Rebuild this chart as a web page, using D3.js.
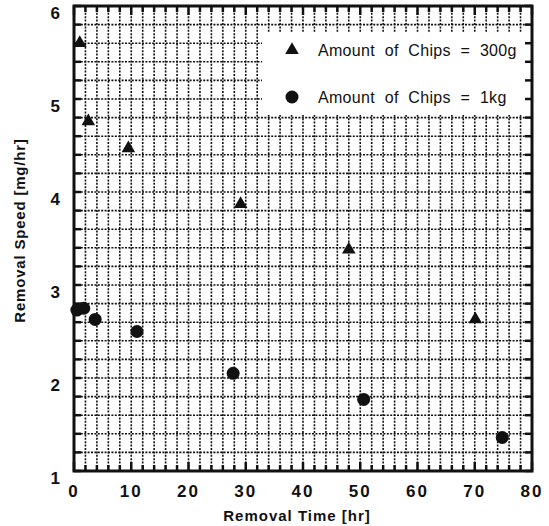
<!DOCTYPE html>
<html>
<head>
<meta charset="utf-8">
<script src="https://cdn.jsdelivr.net/npm/d3@7"></script>
<style>
  body { margin: 0; background: #fff; }
  svg { font-family: "Liberation Sans", Arial, Helvetica, sans-serif; }
  .tick-label { font-weight: bold; font-size: 17px; fill: #111; }
  .title { font-weight: bold; font-size: 15px; fill: #111; }
  .legend text { font-size: 16px; fill: #111; }
</style>
</head>
<body>
<div id="chart"></div>
<script>
// data
var chips300Time = [1.0, 2.5, 9.5, 29.1, 48.0, 70.1];
var chips300Speed = [5.6, 4.76, 4.47, 3.87, 3.38, 2.63];
var chips1kgTime = [0.5, 1.7, 3.7, 11.0, 27.8, 50.6, 74.8];
var chips1kgSpeed = [2.73, 2.75, 2.63, 2.5, 2.05, 1.77, 1.36];
var xTicks = [0, 10, 20, 30, 40, 50, 60, 70, 80];
var yTicks = [1, 2, 3, 4, 5, 6];
var legendLabels = ["Amount of Chips = 300g", "Amount of Chips = 1kg"];

var width = 549, height = 526;
var m = {left: 74, right: 17, top: 6, bottom: 55};
var w = width - m.left - m.right, h = height - m.top - m.bottom;

var svg = d3.select("#chart").append("svg")
  .attr("width", width).attr("height", height);
var g = svg.append("g").attr("transform", "translate(" + m.left + "," + m.top + ")");

var x = d3.scaleLinear().domain([0, 80]).range([0, w]);
var y = d3.scaleLinear().domain([1, 6]).range([h, 0]);

var xMinor = d3.range(0, 80.01, 2);
var yMinor = d3.range(1, 6.01, 0.2);

// dotted grid
g.append("g").selectAll("line").data(xMinor.slice(1, -1)).enter().append("line")
  .attr("x1", function(d) { return x(d); }).attr("x2", function(d) { return x(d); })
  .attr("y1", 0).attr("y2", h)
  .attr("stroke", "#111").attr("stroke-width", 1.6).attr("stroke-dasharray", "2,1.4");
g.append("g").selectAll("line").data(yMinor.slice(1, -1)).enter().append("line")
  .attr("y1", function(d) { return y(d); }).attr("y2", function(d) { return y(d); })
  .attr("x1", 0).attr("x2", w)
  .attr("stroke", "#111").attr("stroke-width", 1.6).attr("stroke-dasharray", "2,1.4");

// legend box covers grid
var leg = g.append("g").attr("class", "legend");
leg.append("rect").attr("x", 188).attr("y", 27).attr("width", w - 188).attr("height", 82)
  .attr("fill", "#fff");

// inward ticks on all sides
function tickLen(d, major) { return Math.abs(d % major) < 1e-6 || Math.abs(d % major - major) < 1e-6 ? 9 : 6; }
var tk = g.append("g").attr("stroke", "#111").attr("stroke-width", 2.5);
xMinor.forEach(function(d) {
  var L = tickLen(d, 10);
  tk.append("line").attr("x1", x(d)).attr("x2", x(d)).attr("y1", h).attr("y2", h - L);
  tk.append("line").attr("x1", x(d)).attr("x2", x(d)).attr("y1", 0).attr("y2", L);
});
yMinor.forEach(function(d) {
  tk.append("line").attr("y1", y(d)).attr("y2", y(d)).attr("x1", 0).attr("x2", 7);
  tk.append("line").attr("y1", y(d)).attr("y2", y(d)).attr("x1", w).attr("x2", w - 7);
});

// frame
g.append("rect").attr("x", 0).attr("y", 0).attr("width", w).attr("height", h)
  .attr("fill", "none").attr("stroke", "#111").attr("stroke-width", 3);

// tick labels
g.append("g").selectAll("text").data(xTicks).enter().append("text")
  .attr("class", "tick-label").attr("x", function(d) { return x(d); }).attr("y", h + 26)
  .attr("text-anchor", "middle").attr("letter-spacing", "2px")
  .text(function(d) { return d; });
g.append("g").selectAll("text").data(yTicks).enter().append("text")
  .attr("class", "tick-label").attr("x", -14).attr("y", function(d) { return y(d) + 13; })
  .attr("text-anchor", "end")
  .text(function(d) { return d; });

// axis titles
svg.append("text").attr("class", "title").attr("x", m.left + w / 2 - 6).attr("y", 521)
  .attr("text-anchor", "middle").attr("letter-spacing", "1px").text("Removal Time [hr]");
svg.append("text").attr("class", "title")
  .attr("transform", "translate(25," + (m.top + h / 2 - 8) + ") rotate(-90)")
  .attr("text-anchor", "middle").attr("letter-spacing", "0.8px").text("Removal Speed [mg/hr]");

// markers
var tri = d3.symbol().type(d3.symbolTriangle).size(80);
var s300 = d3.zip(chips300Time, chips300Speed);
var s1kg = d3.zip(chips1kgTime, chips1kgSpeed);
g.append("g").selectAll("path").data(s300).enter().append("path")
  .attr("d", tri).attr("fill", "#111")
  .attr("transform", function(d) { return "translate(" + x(d[0]) + "," + y(d[1]) + ")"; });
g.append("g").selectAll("circle").data(s1kg).enter().append("circle")
  .attr("cx", function(d) { return x(d[0]); }).attr("cy", function(d) { return y(d[1]); })
  .attr("r", 6.5).attr("fill", "#111");

// legend entries
leg.append("path").attr("d", tri).attr("fill", "#111").attr("transform", "translate(218,44)");
leg.append("circle").attr("cx", 218).attr("cy", 91).attr("r", 6.5).attr("fill", "#111");
leg.selectAll("text").data(legendLabels).enter().append("text")
  .attr("x", 244).attr("y", function(d, i) { return 50 + i * 47; })
  .attr("word-spacing", "5px").attr("letter-spacing", "0.3px")
  .text(function(d) { return d; });
</script>
</body>
</html>
